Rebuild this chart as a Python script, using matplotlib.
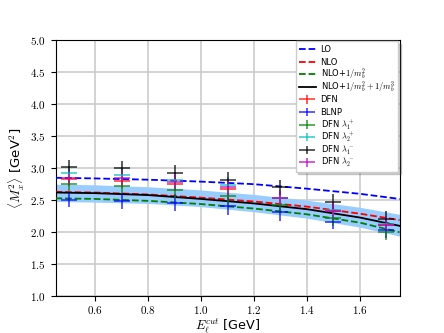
import types
import matplotlib
matplotlib.use("Agg")
import matplotlib.pyplot as plt
from matplotlib.ticker import FuncFormatter, MultipleLocator
from matplotlib.transforms import Bbox

plt.rcParams['mathtext.fontset'] = 'cm'
plt.rcParams['font.family'] = ['DejaVu Sans']

# theory curves
x_line = [0.45, 0.6, 0.8, 1.0, 1.2, 1.4, 1.6, 1.75]
lo = [2.85, 2.84, 2.82, 2.79, 2.75, 2.68, 2.60, 2.52]
nlo = [2.63, 2.62, 2.59, 2.54, 2.48, 2.40, 2.29, 2.19]
nlo_mb2 = [2.53, 2.52, 2.49, 2.44, 2.37, 2.28, 2.15, 2.00]
nlo_mb3 = [2.62, 2.61, 2.58, 2.52, 2.45, 2.36, 2.23, 2.10]
band_hi = [2.75, 2.74, 2.71, 2.66, 2.59, 2.50, 2.39, 2.28]
band_lo = [2.48, 2.47, 2.45, 2.40, 2.32, 2.22, 2.08, 1.94]

# data points
x_pts = [0.5, 0.7, 0.9, 1.1, 1.3, 1.5, 1.7]
dfn = [2.83, 2.80, 2.76, 2.68, 2.53, 2.33, 2.12]
blnp = [2.50, 2.48, 2.46, 2.41, 2.31, 2.16, 2.03]
dfn_l1p = [2.75, 2.72, 2.66, 2.56, 2.42, 2.22, 2.00]
dfn_l2p = [2.92, 2.90, 2.82, 2.74, 2.54, 2.34, 2.13]
dfn_l1m = [3.02, 3.00, 2.93, 2.82, 2.70, 2.47, 2.21]
dfn_l2m = [2.85, 2.84, 2.79, 2.70, 2.53, 2.33, 2.12]
err = [0.11, 0.11, 0.12, 0.12, 0.12, 0.12, 0.12]
err_blnp = [0.11, 0.11, 0.13, 0.14, 0.14, 0.11, 0.12]

fig = plt.figure(figsize=(4.44, 3.33), dpi=100)
ax = fig.add_subplot(111)

ax.fill_between(x_line, band_lo, band_hi, color='#99ccff', lw=0, zorder=1)
ax.plot(x_line, lo, 'b--', lw=1.3, label='LO', zorder=3)
ax.plot(x_line, nlo, 'r--', lw=1.3, label='NLO', zorder=3)
ax.plot(x_line, nlo_mb2, 'g--', lw=1.3, label=r'NLO+$1/m_b^2$', zorder=3)
ax.plot(x_line, nlo_mb3, 'k-', lw=1.3, label=r'NLO+$1/m_b^2+1/m_b^3$', zorder=3)

series = [
    (dfn, err, 'red', 'DFN'),
    (blnp, err_blnp, 'blue', 'BLNP'),
    (dfn_l1p, err, 'green', r'DFN $\lambda_1^+$'),
    (dfn_l2p, err, 'c', r'DFN $\lambda_2^+$'),
    (dfn_l1m, err, 'black', r'DFN $\lambda_1^-$'),
    (dfn_l2m, err, 'm', r'DFN $\lambda_2^-$'),
]
for vals, e, col, lab in series:
    ax.errorbar(x_pts, vals, yerr=e, fmt='_', color=col, ms=11, mew=1.2,
                elinewidth=1.2, alpha=0.75, label=lab, zorder=4)

ax.set_xlim(0.45, 1.75)
ax.set_ylim(1.0, 5.0)
ax.yaxis.set_major_locator(MultipleLocator(0.5))
ax.xaxis.set_major_locator(MultipleLocator(0.2))
ax.xaxis.set_major_formatter(FuncFormatter(lambda v, p: f'${v:.1f}$'))
ax.yaxis.set_major_formatter(FuncFormatter(lambda v, p: f'${v:.1f}$'))
ax.tick_params(labelsize=8)
ax.tick_params(axis='x', pad=2)
ax.grid(True, color='#cccccc', lw=1.2)
ax.set_axisbelow(True)

ax.set_xlabel(r'$E_\ell^{cut}$ [GeV]', fontsize=9.2, labelpad=0)
ax.set_ylabel(r'$\langle M_x^2\rangle$ [GeV$^2$]', fontsize=9.5, labelpad=2)

leg = ax.legend(loc='upper right', fontsize=6, shadow={'alpha': 0.25},
                fancybox=False, borderaxespad=0.15, framealpha=1,
                edgecolor='#cccccc', handlelength=2.0, labelspacing=0.25,
                borderpad=0.4, handletextpad=0.6)

# uniform legend row heights (mathtext rows would otherwise be taller)
ROW_H, ROW_D = 10.5, 3.0


def _fixed_bbox(self, renderer, _orig=None):
    bb = _orig(renderer)
    return Bbox.from_bounds(bb.x0, -ROW_D, bb.width, ROW_H)


for col in leg._legend_handle_box.get_children():
    for row in col.get_children():
        ta = row.get_children()[1]
        orig = ta.get_bbox
        ta.get_bbox = types.MethodType(
            lambda self, renderer, _o=orig: _fixed_bbox(self, renderer, _o), ta)

fig.savefig('out.png', dpi=100)
